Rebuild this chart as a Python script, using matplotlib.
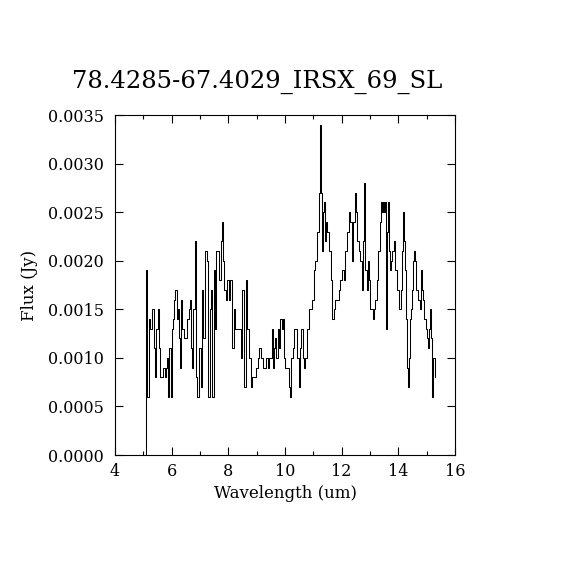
import matplotlib
matplotlib.use("Agg")
import matplotlib.pyplot as plt
from matplotlib.ticker import MultipleLocator, FormatStrFormatter

title = "78.4285-67.4029_IRSX_69_SL"
xlabel = "Wavelength (um)"
ylabel = "Flux (Jy)"

wave_a = [5.08, 5.12, 5.16, 5.22, 5.28, 5.34, 5.40, 5.44, 5.48, 5.52, 5.56, 5.60,
          5.66, 5.72, 5.78, 5.82, 5.86, 5.90, 5.94, 5.98, 6.02, 6.06, 6.10, 6.16,
          6.20, 6.24, 6.28, 6.32, 6.36, 6.40, 6.46, 6.52, 6.58, 6.62, 6.66, 6.70,
          6.74, 6.78, 6.84, 6.88, 6.94]
flux_a = [0.0000, 0.0019, 0.0006, 0.0014, 0.0013, 0.0015, 0.0011, 0.0008, 0.0013, 0.0015, 0.0011, 0.0008,
          0.0008, 0.0009, 0.0008, 0.0009, 0.0010, 0.0006, 0.0011, 0.0006, 0.0013, 0.0014, 0.0016, 0.0017,
          0.0014, 0.0015, 0.0012, 0.0009, 0.0016, 0.0013, 0.0012, 0.0012, 0.0014, 0.0015, 0.0016, 0.0011,
          0.0009, 0.0015, 0.0022, 0.0008, 0.0006]

wave_b = [7.00, 7.06, 7.10, 7.14, 7.20, 7.26, 7.32, 7.36, 7.42, 7.46, 7.50, 7.54,
          7.58, 7.64, 7.70, 7.76, 7.78, 7.82, 7.88, 7.94, 8.00, 8.04, 8.10, 8.16,
          8.22, 8.28, 8.34, 8.40, 8.46, 8.52, 8.58, 8.64, 8.70, 8.76, 8.82, 8.88,
          8.94, 9.00, 9.06, 9.12, 9.18]
flux_b = [0.0011, 0.0007, 0.0017, 0.0012, 0.0021, 0.0020, 0.0006, 0.0015, 0.0017, 0.0006, 0.0019, 0.0013,
          0.0021, 0.0021, 0.0018, 0.0022, 0.0024, 0.0020, 0.0017, 0.0016, 0.0018, 0.0016, 0.0018, 0.0011,
          0.0015, 0.0013, 0.0013, 0.0013, 0.0010, 0.0017, 0.0007, 0.0018, 0.0013, 0.0010, 0.0007, 0.0008,
          0.0008, 0.0009, 0.0010, 0.0011, 0.0010]

wave_c = [9.24, 9.30, 9.36, 9.42, 9.48, 9.52, 9.56, 9.60, 9.64, 9.68, 9.72, 9.76,
          9.82, 9.86, 9.90, 9.94, 9.98, 10.02, 10.08, 10.12, 10.16, 10.20, 10.24, 10.30,
          10.36, 10.42, 10.46, 10.50, 10.54, 10.60, 10.64, 10.70, 10.74, 10.80, 10.86, 10.92,
          10.98, 11.04, 11.10, 11.16, 11.22]
flux_c = [0.0009, 0.0009, 0.0010, 0.0009, 0.0010, 0.0010, 0.0013, 0.0009, 0.0011, 0.0012, 0.0010, 0.0013,
          0.0011, 0.0014, 0.0013, 0.0014, 0.0010, 0.0009, 0.0009, 0.0009, 0.0007, 0.0006, 0.0010, 0.0011,
          0.0013, 0.0013, 0.0010, 0.0007, 0.0011, 0.0013, 0.0010, 0.0009, 0.0010, 0.0013, 0.0015, 0.0015,
          0.0016, 0.0019, 0.0020, 0.0023, 0.0027]

wave_d = [11.26, 11.30, 11.32, 11.36, 11.40, 11.44, 11.48, 11.52, 11.58, 11.64, 11.70, 11.74,
          11.80, 11.86, 11.92, 11.98, 12.04, 12.10, 12.16, 12.22, 12.28, 12.34, 12.38, 12.44,
          12.48, 12.52, 12.58, 12.62, 12.68, 12.74, 12.78, 12.82, 12.86, 12.90, 12.94, 12.98,
          13.02, 13.08, 13.12, 13.16, 13.20, 13.26, 13.32, 13.36, 13.40, 13.44]
flux_d = [0.0034, 0.0027, 0.0021, 0.0025, 0.0026, 0.0022, 0.0024, 0.0023, 0.0021, 0.0018, 0.0014, 0.0015,
          0.0016, 0.0016, 0.0017, 0.0018, 0.0019, 0.0018, 0.0021, 0.0023, 0.0025, 0.0024, 0.0020, 0.0024,
          0.0027, 0.0025, 0.0022, 0.0021, 0.0020, 0.0017, 0.0022, 0.0028, 0.0019, 0.0017, 0.0020, 0.0018,
          0.0015, 0.0015, 0.0014, 0.0015, 0.0016, 0.0018, 0.0021, 0.0024, 0.0026, 0.0025]

wave_e = [13.48, 13.50, 13.54, 13.56, 13.58, 13.60, 13.64, 13.68, 13.72, 13.76, 13.82, 13.88,
          13.92, 13.96, 14.02, 14.06, 14.10, 14.14, 14.18, 14.22, 14.26, 14.28, 14.32, 14.34,
          14.38, 14.42, 14.46, 14.50, 14.54, 14.58, 14.62, 14.66, 14.72, 14.78, 14.82, 14.86,
          14.88, 14.94, 14.98, 15.02, 15.06, 15.10, 15.14, 15.18, 15.22, 15.26, 15.30]
flux_e = [0.0026, 0.0025, 0.0026, 0.0016, 0.0013, 0.0023, 0.0026, 0.0021, 0.0019, 0.0020, 0.0021, 0.0022,
          0.0019, 0.0017, 0.0017, 0.0015, 0.0017, 0.0021, 0.0025, 0.0022, 0.0019, 0.0014, 0.0009, 0.0007,
          0.0010, 0.0014, 0.0015, 0.0017, 0.0020, 0.0021, 0.0020, 0.0017, 0.0016, 0.0015, 0.0019, 0.0017,
          0.0016, 0.0014, 0.0013, 0.0012, 0.0011, 0.0013, 0.0015, 0.0012, 0.0006, 0.0010, 0.0008]

wave = wave_a + wave_b + wave_c + wave_d + wave_e
flux = flux_a + flux_b + flux_c + flux_d + flux_e

plt.rcParams['font.family'] = ['DejaVu Serif']

fig = plt.figure(figsize=(5.7, 5.7), dpi=100)
ax = fig.add_axes([115/570, 115/570, 340/570, 340/570])
ax.plot(wave, flux, color='black', lw=0.75, drawstyle='steps-mid')

ax.set_xlim(4, 16)
ax.set_ylim(0, 0.0035)
ax.xaxis.set_major_locator(MultipleLocator(2))
ax.xaxis.set_minor_locator(MultipleLocator(1))
ax.yaxis.set_major_locator(MultipleLocator(0.0005))
ax.yaxis.set_major_formatter(FormatStrFormatter('%.4f'))
ax.tick_params(which='both', direction='in', top=True, right=True, labelsize=11.5, width=0.8)
ax.tick_params(axis='y', pad=8)
ax.tick_params(axis='x', pad=6)
ax.tick_params(which='major', length=6)
ax.tick_params(which='minor', length=3)
for s in ax.spines.values():
    s.set_linewidth(0.8)

ax.set_xlabel(xlabel, fontsize=12, labelpad=3)
ax.set_ylabel(ylabel, fontsize=12, labelpad=7)
fig.text(0.5 * (75 + 440) / 570, 1 - 82/570, title, ha='center', va='center', fontsize=17.5)

fig.savefig('out.png', dpi=100)
